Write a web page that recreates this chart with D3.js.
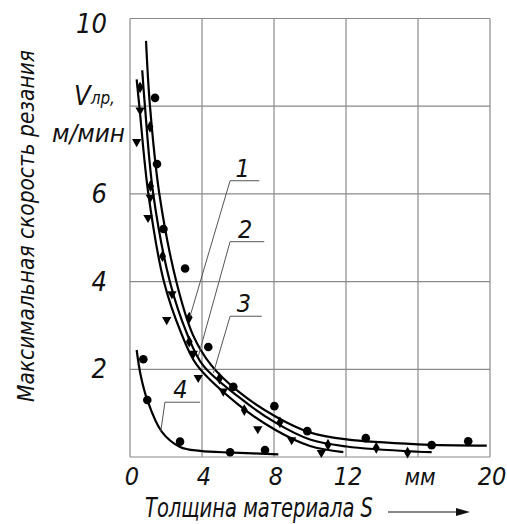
<!DOCTYPE html>
<html>
<head>
<meta charset="utf-8">
<script src="https://cdn.jsdelivr.net/npm/d3@7"></script>
<style>
  body { margin: 0; background: #fff; }
  text { font-family: "Liberation Sans Narrow", "DejaVu Sans Condensed", sans-serif; font-style: italic; fill: #111; }
</style>
</head>
<body>
<div id="chart"></div>
<script>
// толщина S, мм -> скорость V, м/мин (точки кривых)
var curve1 = [[0.89, 9.49], [1.11, 8.0], [1.63, 6.0], [2.58, 3.99], [3.5, 2.78], [4.5, 2.1], [6.0, 1.5], [8.06, 0.93], [10.0, 0.56], [12.04, 0.40], [16.0, 0.29], [19.82, 0.26]];
var curve2 = [[0.68, 8.82], [0.83, 8.0], [1.29, 6.0], [2.22, 3.99], [3.18, 2.80], [4.04, 2.10], [6.0, 1.38], [8.06, 0.79], [10.0, 0.40], [12.04, 0.24], [16.0, 0.12], [16.76, 0.11]];
var curve3 = [[0.37, 8.61], [0.52, 8.0], [1.02, 6.0], [1.89, 3.99], [2.87, 2.80], [3.71, 2.10], [6.0, 1.2], [8.06, 0.62], [10.0, 0.25], [11.85, 0.11]];
var curve4 = [[0.37, 2.44], [0.59, 1.87], [0.96, 1.30], [1.76, 0.58], [2.78, 0.23], [3.89, 0.14], [5.74, 0.10], [8.24, 0.06]];

// экспериментальные точки
var dots1 = [[1.39, 8.19], [1.50, 6.68], [1.86, 5.20], [3.06, 4.30], [4.35, 2.51], [5.74, 1.60], [8.02, 1.16], [9.85, 0.59], [13.1, 0.43], [16.76, 0.27], [18.79, 0.36]];
var dots2 = [[0.56, 8.43], [1.11, 7.53], [1.14, 6.18], [1.81, 4.58], [3.29, 3.18], [3.29, 2.63], [4.97, 1.79], [6.35, 1.07], [8.33, 0.79], [11.0, 0.28], [13.68, 0.21], [15.42, 0.10]];
var dots3 = [[0.56, 7.91], [0.37, 7.19], [1.13, 5.92], [1.0, 5.46], [2.33, 3.72], [2.04, 3.13], [3.52, 2.36], [3.79, 1.81], [5.18, 1.50], [7.1, 0.64], [8.98, 0.39], [10.63, 0.10]];
var dots4 = [[0.74, 2.23], [0.96, 1.30], [2.78, 0.35], [5.56, 0.11], [7.5, 0.16]];

// выноски: номер, точка на кривой, излом, конец полки
var leaders = [
  { label: "1", tip: [3.33, 3.20], elbow: [5.56, 6.30], end: 7.18 },
  { label: "2", tip: [3.79, 2.29], elbow: [5.56, 4.91], end: 7.46 },
  { label: "3", tip: [4.63, 1.91], elbow: [5.56, 3.21], end: 7.32 },
  { label: "4", tip: [1.71, 0.58], elbow: [1.94, 1.25], end: 3.89 }
];

var xTicks = [0, 4, 8, 12, 16, 20];
var xTickLabels = ["0", "4", "8", "12", "мм", "20"];
var yTicks = [0, 2, 4, 6, 8, 10];
var yTickLabels = ["", "2", "4", "6", "", "10"];

var width = 507;
var height = 524;

var svg = d3.select("#chart")
            .append("svg")
            .attr("width", width)
            .attr("height", height);

var x = d3.scaleLinear().domain([0, 20]).range([130, 490]);
var y = d3.scaleLinear().domain([0, 10]).range([457, 18.5]);

// сетка
var grid = svg.append("g")
              .attr("stroke", "#8a8a8a")
              .attr("stroke-width", 1.2);

grid.selectAll("line.v")
    .data(xTicks)
    .enter()
    .append("line")
    .attr("x1", function(d) { return x(d); })
    .attr("x2", function(d) { return x(d); })
    .attr("y1", y(0))
    .attr("y2", y(10));

grid.selectAll("line.h")
    .data(yTicks)
    .enter()
    .append("line")
    .attr("x1", x(0))
    .attr("x2", x(20))
    .attr("y1", function(d) { return y(d); })
    .attr("y2", function(d) { return y(d); });

// подписи делений
svg.append("g")
   .selectAll("text")
   .data(xTicks)
   .enter()
   .append("text")
   .attr("x", function(d) { return x(d) + 2; })
   .attr("y", 485)
   .attr("text-anchor", "middle")
   .style("font-size", function(d, i) { return xTickLabels[i] == "мм" ? "23px" : "25px"; })
   .text(function(d, i) { return xTickLabels[i]; });

svg.append("g")
   .selectAll("text")
   .data(yTicks)
   .enter()
   .append("text")
   .attr("x", 107)
   .attr("y", function(d) { return Math.max(y(d) + 9, 33); })
   .attr("text-anchor", "end")
   .style("font-size", "27px")
   .text(function(d, i) { return yTickLabels[i]; });

// обозначение величины
var unit = svg.append("text")
              .attr("x", 74)
              .attr("y", 105)
              .style("font-size", "27px");
unit.append("tspan").text("V");
unit.append("tspan")
    .attr("dy", "-1")
    .style("font-size", "17px")
    .text("лр,");

svg.append("text")
   .attr("x", 52)
   .attr("y", 142)
   .attr("textLength", 73)
   .attr("lengthAdjust", "spacingAndGlyphs")
   .style("font-size", "24px")
   .text("м/мин");

// названия осей
svg.append("text")
   .attr("transform", "translate(34,402) rotate(-90)")
   .attr("x", 0)
   .attr("y", 0)
   .attr("textLength", 352)
   .attr("lengthAdjust", "spacingAndGlyphs")
   .style("font-size", "23px")
   .text("Максимальная скорость резания");

svg.append("text")
   .attr("x", 145)
   .attr("y", 517)
   .attr("textLength", 228)
   .attr("lengthAdjust", "spacingAndGlyphs")
   .style("font-size", "26px")
   .text("Толщина материала S");

svg.append("line")
   .attr("x1", 388)
   .attr("x2", 458)
   .attr("y1", 512)
   .attr("y2", 512)
   .attr("stroke", "#111")
   .attr("stroke-width", 1.2);

svg.append("path")
   .attr("d", "M470,512 L456,508 L456,516 Z")
   .attr("fill", "#111");

// кривые
var line = d3.line()
             .x(function(d) { return x(d[0]); })
             .y(function(d) { return y(d[1]); })
             .curve(d3.curveCatmullRom.alpha(0.5));

svg.append("g")
   .attr("fill", "none")
   .attr("stroke", "#000")
   .attr("stroke-width", 2.2)
   .selectAll("path")
   .data([curve1, curve2, curve3, curve4])
   .enter()
   .append("path")
   .attr("d", line);

// маркеры
var circleSym = d3.symbol().type(d3.symbolCircle).size(58);
var diamondSym = d3.symbol().type(d3.symbolDiamond).size(40);
var triangleSym = d3.symbol().type(d3.symbolTriangle).size(38);

function drawMarks(data, sym, rot) {
    svg.append("g")
       .attr("fill", "#000")
       .selectAll("path")
       .data(data)
       .enter()
       .append("path")
       .attr("transform", function(d) { return "translate(" + x(d[0]) + "," + y(d[1]) + ") rotate(" + rot + ")"; })
       .attr("d", sym);
}

drawMarks(dots1, circleSym, 0);
drawMarks(dots4, circleSym, 0);
drawMarks(dots2, diamondSym, 0);
drawMarks(dots3, triangleSym, 180);

// выноски
var lead = svg.append("g")
              .attr("stroke", "#555")
              .attr("stroke-width", 1)
              .attr("fill", "none");

leaders.forEach(function(d) {
    lead.append("path")
        .attr("d", "M" + x(d.tip[0]) + "," + y(d.tip[1]) +
                   " L" + x(d.elbow[0]) + "," + y(d.elbow[1]) +
                   " L" + x(d.end) + "," + y(d.elbow[1]));
    svg.append("text")
       .attr("x", (x(d.elbow[0]) + x(d.end)) / 2 - 2)
       .attr("y", y(d.elbow[1]) - 4)
       .attr("text-anchor", "middle")
       .style("font-size", "25px")
       .text(d.label);
});
</script>
</body>
</html>
